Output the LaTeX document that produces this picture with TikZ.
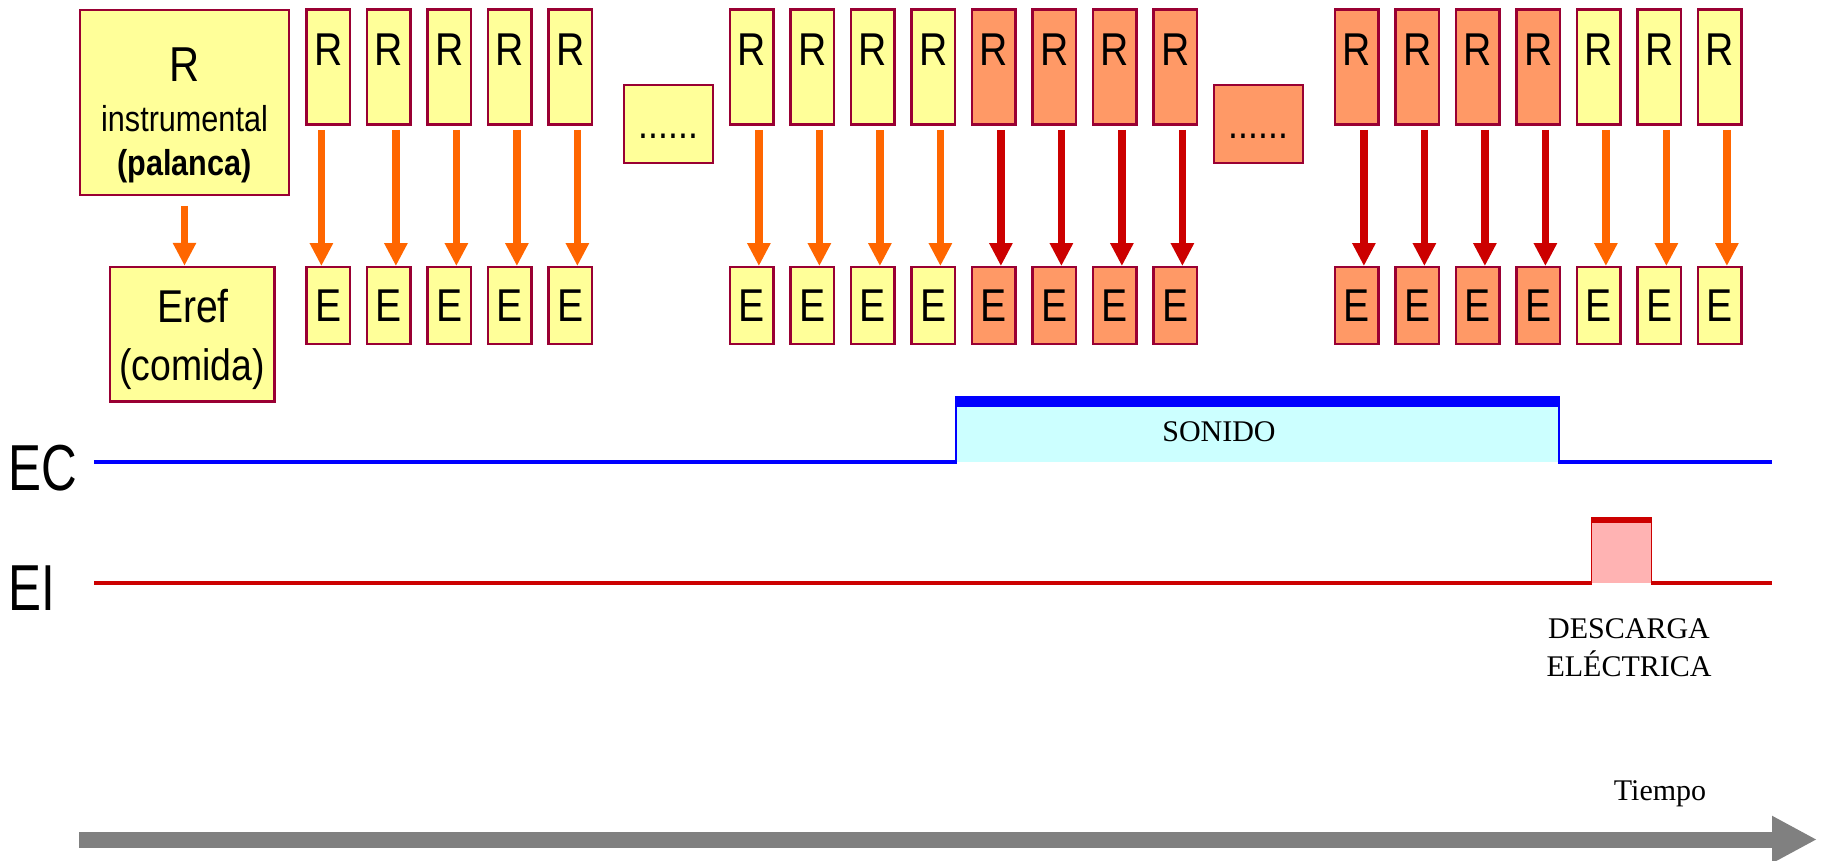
\documentclass[tikz,border=0pt]{standalone}
\usepackage{fontspec}
\setmainfont{Liberation Serif}
\newfontfamily\narrowsans[FakeStretch=0.85]{Liberation Sans}
\newfontfamily\narrowersans[FakeStretch=0.76]{Liberation Sans}
\usetikzlibrary{arrows.meta,calc}
\definecolor{boxyellow}{HTML}{FFFF99}
\definecolor{boxorange}{HTML}{FF9966}
\definecolor{boxborder}{HTML}{990033}
\definecolor{arrorange}{HTML}{FF6600}
\definecolor{arrred}{HTML}{CC0000}
\definecolor{ecblue}{HTML}{0000FF}
\definecolor{soncyan}{HTML}{CCFFFF}
\definecolor{shockpink}{HTML}{FFB3B3}
\definecolor{eired}{HTML}{CC0000}
\definecolor{timegray}{HTML}{808080}
\begin{document}
\begin{tikzpicture}[x=1pt,y=-1pt,
  box/.style={draw=boxborder, line width=2.4pt, inner sep=0pt},
  rbox/.style={box, minimum width=43.5pt, minimum height=115pt,
    text height=33pt, text depth=35.6pt,
    font={\narrowsans\fontsize{46}{46}\selectfont}},
  ebox/.style={box, minimum width=43.5pt, minimum height=76.5pt,
    font={\narrowsans\fontsize{46}{46}\selectfont}},
  dotbox/.style={box, minimum width=89pt, minimum height=77.6pt,
    text height=30pt, text depth=0pt,
    font={\narrowsans\fontsize{42}{42}\selectfont}},
  downarrow/.style={line width=7.6pt, -{Triangle[width=22pt,length=23pt]}},
  label/.style={inner sep=0pt, anchor=base},
  serifl/.style={inner sep=0pt, font={\fontsize{30}{38}\selectfont}},
]
\useasboundingbox (0,0) rectangle (1826,861);

% left big boxes
\node[box, fill=boxyellow, minimum width=208.6pt, minimum height=184.6pt] (rbig) at (184.5,102.5) {};
\node[label, font={\narrowsans\fontsize{49}{49}\selectfont}] (rbigR) at (184.5,81.7) {R};
\node[label, font={\narrowsans\fontsize{36}{36}\selectfont}] (rbigI) at (184.5,131.7) {instrumental};
\node[label, font={\narrowsans\bfseries\fontsize{36}{36}\selectfont}] (rbigP) at (184.5,176) {(palanca)};
\node[box, fill=boxyellow, minimum width=164.6pt, minimum height=134.6pt] (eref) at (192,334.3) {};
\node[label, font={\narrowsans\fontsize{46}{46}\selectfont}] (erefE) at (193,322.7) {Eref};
\node[label, font={\narrowsans\fontsize{44}{44}\selectfont}] (erefC) at (192,380) {(comida)};
\draw[downarrow, arrorange] ($(rbig.south)+(0,10)$) -- (rbig.south |- eref.north);

% columns
\foreach \k in {0,1,2,3,4,7,8,9,10,21,22,23} {
  \pgfmathsetmacro\dx{ifthenelse(\k==0,-7,7)}
  \node[rbox, fill=boxyellow] (r\k) at ({328.4+60.5*\k},67.2) {R};
  \node[ebox, fill=boxyellow] (e\k) at ({328.4+60.5*\k},305.5) {E};
  \draw[downarrow, arrorange] ($(r\k.south)+(\dx,4)$) -- ($(e\k.north)+(\dx,0)$);
}
\foreach \k in {11,12,13,14,17,18,19,20} {
  \node[rbox, fill=boxorange] (r\k) at ({328.4+60.5*\k},67.2) {R};
  \node[ebox, fill=boxorange] (e\k) at ({328.4+60.5*\k},305.5) {E};
  \draw[downarrow, arrred] ($(r\k.south)+(7,4)$) -- ($(e\k.north)+(7,0)$);
}
\node[dotbox, fill=boxyellow] (dots1) at (668.5,124) {......};
\node[dotbox, fill=boxorange] (dots2) at (1258.5,124) {......};

% EC line
\node[label, anchor=base west, font={\narrowersans\fontsize{65}{65}\selectfont}] (ec) at (8,490) {EC};
\fill[soncyan] (955,407) rectangle (1560,462);
\fill[ecblue] (955,396) rectangle (1560,407);
\draw[ecblue, line width=2pt] (956,404) -- (956,462) (1559,404) -- (1559,462);
\draw[ecblue, line width=4.3pt] (94,462) -- (957,462) (1558,462) -- (1772,462);
\node[serifl] (sonido) at (1219,432) {SONIDO};

% EI line
\node[label, anchor=base west, font={\narrowersans\fontsize{65}{65}\selectfont}] (ei) at (8,610.7) {EI};
\fill[shockpink] (1591,522.7) rectangle (1652,583);
\fill[eired] (1591,516.7) rectangle (1652,522.7);
\draw[eired, line width=1pt] (1591.5,520) -- (1591.5,583) (1651.5,520) -- (1651.5,583);
\draw[eired, line width=4.3pt] (94,583.3) -- (1592,583.3) (1651,583.3) -- (1772,583.3);
\node[serifl, anchor=north, align=center] (descarga) at (1629,618) {DESCARGA\\ELÉCTRICA};

% time arrow
\node[label, font={\fontsize{30}{30}\selectfont}] (tiempo) at (1660,800.7) {Tiempo};
\coordinate (t0) at (79,839.5);
\coordinate (t1) at (1817,839.5);
\draw[timegray, line width=16pt, -{Triangle[width=44pt,length=45pt]}] (t0) -- (t1);
\end{tikzpicture}
\end{document}
